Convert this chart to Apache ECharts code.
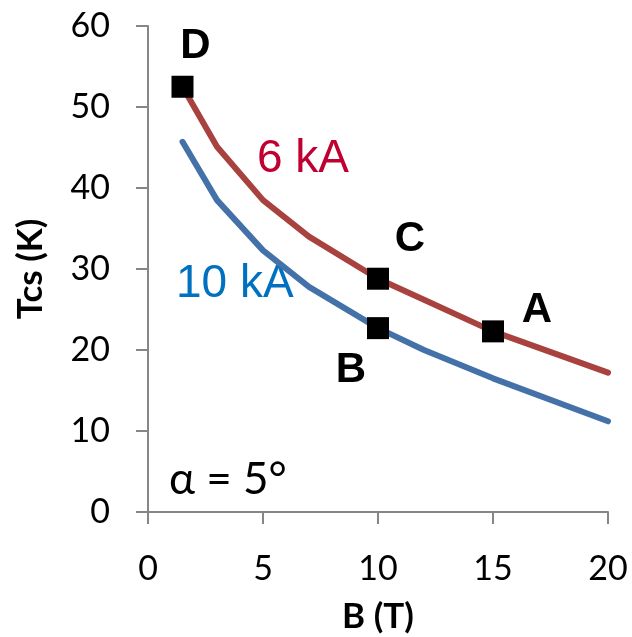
<!DOCTYPE html>
<html>
<head>
<meta charset="utf-8">
<script src="https://cdn.jsdelivr.net/npm/echarts@6/dist/echarts.min.js"></script>
<style>
  html, body { margin: 0; padding: 0; background: #fff; }
  #chart { width: 632px; height: 637px; }
</style>
</head>
<body>
<div id="chart"></div>
<script>
// B (T) values where the curves bend
var b6 = [1.5, 3, 5, 7, 10, 12, 15, 20];
var tcs6 = [52.5, 45.1, 38.5, 34.0, 28.8, 26.2, 22.3, 17.2];
var b10 = [1.5, 3, 5, 7, 10, 12, 15, 20];
var tcs10 = [45.7, 38.5, 32.3, 27.8, 22.7, 20.0, 16.5, 11.2];

// labelled operating points
var pointNames = ['D', 'C', 'B', 'A'];
var pointB = [1.5, 10, 10, 15];
var pointT = [52.5, 28.8, 22.7, 22.3];
var labelOffsets = [[13, -40], [32, -39], [-27, 42], [44, -21]];

function pairs(xs, ys) {
    var d = [];
    for (var i = 0; i < xs.length; i++) {
        d.push([xs[i], ys[i]]);
    }
    return d;
}

var pts = [];
for (var i = 0; i < pointNames.length; i++) {
    pts.push({
        name: pointNames[i],
        value: [pointB[i], pointT[i]],
        label: {offset: labelOffsets[i]}
    });
}

var axisGrey = '#868686';

var option = {
    animation: false,
    grid: {left: 148, right: 24, top: 26, bottom: 125, outerBoundsMode: 'none', containLabel: false},
    xAxis: {
        type: 'value', min: 0, max: 20, interval: 5,
        name: 'B (T)', nameLocation: 'middle', nameGap: 87,
        nameTextStyle: {fontFamily: 'Lato', fontWeight: 'bold', fontSize: 35, color: '#000'},
        axisLine: {lineStyle: {color: axisGrey, width: 2}},
        axisTick: {show: true, length: 12, lineStyle: {color: axisGrey, width: 2}},
        axisLabel: {fontFamily: 'Lato', fontSize: 34, color: '#000', margin: 40},
        splitLine: {show: false}
    },
    yAxis: {
        type: 'value', min: 0, max: 60, interval: 10,
        name: 'Tcs (K)', nameLocation: 'middle', nameGap: 100,
        nameTextStyle: {fontFamily: 'Lato', fontWeight: 'bold', fontSize: 35, color: '#000'},
        axisLine: {show: true, lineStyle: {color: axisGrey, width: 2}},
        axisTick: {show: true, length: 12, lineStyle: {color: axisGrey, width: 2}},
        axisLabel: {fontFamily: 'Lato', fontSize: 34, color: '#000', margin: 38},
        splitLine: {show: false}
    },
    series: [
        {
            name: '6 kA', type: 'line', data: pairs(b6, tcs6),
            showSymbol: false, symbol: 'none',
            lineStyle: {color: '#A8423F', width: 6, cap: 'round'}
        },
        {
            name: '10 kA', type: 'line', data: pairs(b10, tcs10),
            showSymbol: false, symbol: 'none',
            lineStyle: {color: '#4471A8', width: 6, cap: 'round'}
        },
        {
            type: 'scatter', data: pts, z: 5,
            symbol: 'rect', symbolSize: 22,
            itemStyle: {color: '#000', opacity: 1},
            label: {
                show: true, position: 'inside', formatter: '{b}',
                fontFamily: 'Liberation Sans', fontWeight: 'bold', fontSize: 42, color: '#000'
            }
        }
    ],
    graphic: [
        {type: 'text', left: 257, top: 136, style: {text: '6 kA', fill: '#C00030', font: '46px "Liberation Sans"'}},
        {type: 'text', left: 176, top: 261, style: {text: '10 kA', fill: '#0070C0', font: '46px "Liberation Sans"'}},
        {type: 'text', left: 169, top: 458, style: {text: 'α = 5°', fill: '#000', font: '44px Lato'}}
    ]
};

var chart = echarts.init(document.getElementById('chart'));
chart.setOption(option);
</script>
</body>
</html>
